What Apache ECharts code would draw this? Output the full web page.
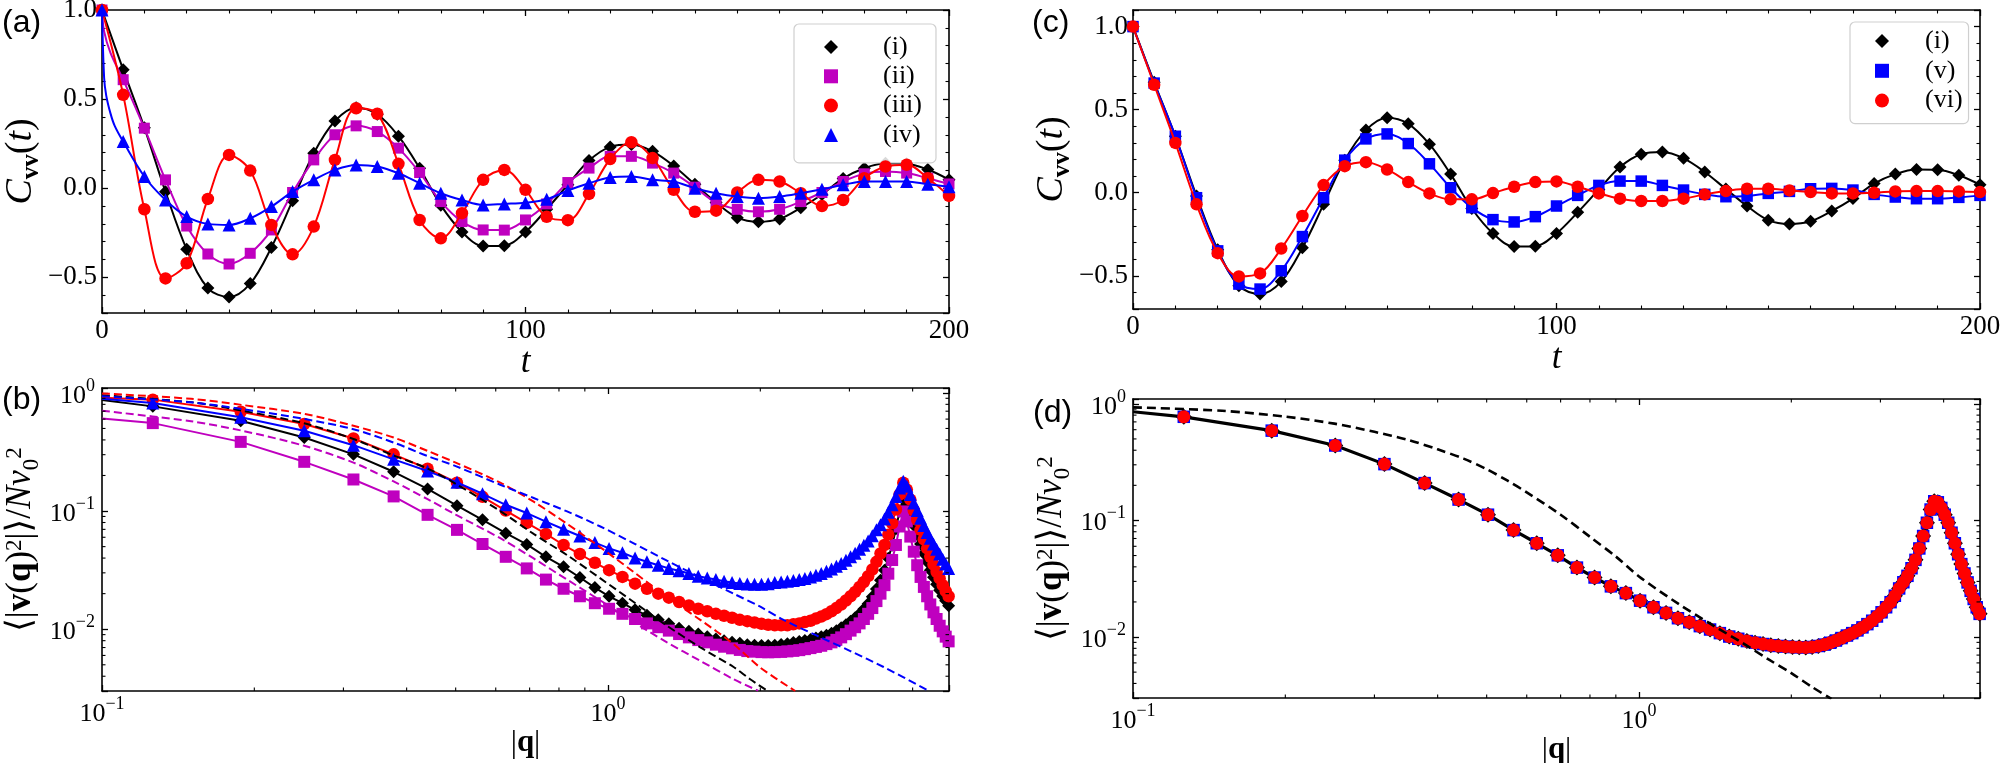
<!DOCTYPE html>
<html>
<head>
<meta charset="utf-8">
<script src="https://cdn.jsdelivr.net/npm/echarts@6/dist/echarts.min.js"></script>
<style>
html,body{margin:0;padding:0;background:#fff;}
#chart{width:2000px;height:763px;}
</style>
</head>
<body>
<div id="chart"></div>
<script>
// ================= DATA =================
// Panels (a),(c): velocity autocorrelation C_vv(t), symbols every 5 time units
const tValues = [0,5,10,15,20,25,30,35,40,45,50,55,60,65,70,75,80,85,90,95,100,105,110,115,120,125,130,135,140,145,150,155,160,165,170,175,180,185,190,195,200];
const cvvI   = [1.0,0.665,0.34,-0.02,-0.343,-0.56,-0.61,-0.535,-0.332,-0.07,0.196,0.377,0.452,0.415,0.292,0.112,-0.095,-0.245,-0.324,-0.322,-0.245,-0.118,0.02,0.155,0.232,0.245,0.207,0.125,0.022,-0.08,-0.165,-0.188,-0.172,-0.11,-0.035,0.055,0.112,0.14,0.138,0.105,0.048];
const cvvII  = [1.0,0.609,0.337,0.047,-0.212,-0.369,-0.425,-0.365,-0.234,-0.024,0.159,0.30,0.35,0.318,0.225,0.088,-0.075,-0.187,-0.234,-0.235,-0.178,-0.088,0.032,0.113,0.179,0.179,0.141,0.085,0.006,-0.081,-0.118,-0.132,-0.118,-0.075,-0.024,0.038,0.081,0.094,0.085,0.056,0.024];
const cvvIII = [1.0,0.524,-0.118,-0.506,-0.421,-0.06,0.187,0.099,-0.206,-0.371,-0.215,0.159,0.449,0.418,0.137,-0.178,-0.281,-0.14,0.047,0.103,-0.009,-0.16,-0.179,-0.032,0.164,0.258,0.169,-0.009,-0.132,-0.126,-0.024,0.047,0.038,-0.028,-0.10,-0.066,0.056,0.122,0.132,0.056,-0.043];
const cvvIV  = [1.0,0.262,0.066,-0.066,-0.159,-0.20,-0.206,-0.169,-0.103,-0.019,0.047,0.103,0.131,0.122,0.084,0.028,-0.028,-0.066,-0.094,-0.088,-0.081,-0.062,-0.013,0.028,0.06,0.066,0.047,0.038,0.0,-0.028,-0.047,-0.056,-0.047,-0.028,-0.006,0.019,0.038,0.038,0.038,0.022,0.009];
const cvvV   = [1.0,0.66,0.34,-0.03,-0.35,-0.55,-0.58,-0.47,-0.264,-0.03,0.196,0.324,0.354,0.296,0.174,0.03,-0.09,-0.162,-0.176,-0.144,-0.08,-0.016,0.044,0.07,0.07,0.044,0.016,-0.01,-0.024,-0.02,-0.004,0.008,0.024,0.026,0.016,-0.01,-0.026,-0.036,-0.036,-0.028,-0.016];
const cvvVI  = [1.0,0.65,0.30,-0.07,-0.364,-0.504,-0.486,-0.336,-0.14,0.046,0.16,0.184,0.14,0.064,-0.004,-0.04,-0.04,-0.002,0.036,0.064,0.068,0.036,-0.004,-0.036,-0.05,-0.05,-0.036,-0.01,0.01,0.024,0.024,0.014,0.004,-0.004,-0.004,0.0,0.008,0.01,0.01,0.008,0.004];
// extra points of the fitted curves between t=0 and t=5 (fast initial drop)
const earlyTII = [0.5, 2];
const earlyII  = [0.88, 0.76];
const earlyTIV = [0.5, 1, 2, 3];
const earlyIV  = [0.62, 0.52, 0.42, 0.35];

// Panels (b),(d): spectrum <|v(q)^2|>/N v0^2 at the lattice wave numbers |q|
const qValues = [0.126,0.188,0.251,0.314,0.377,0.440,0.503,0.565,0.628,0.691,
  0.754,0.817,0.880,0.942,1.005,1.068,1.131,1.194,1.257,1.319,
  1.382,1.445,1.508,1.571,1.634,1.696,1.759,1.822,1.885,1.948,
  2.011,2.073,2.136,2.199,2.262,2.325,2.388,2.450,2.513,2.576,
  2.639,2.702,2.765,2.827,2.890,2.953,3.016,3.079,3.142,3.204,
  3.267,3.330,3.393,3.456,3.519,3.581,3.644,3.707,3.770,3.833,
  3.896,3.958,4.021,4.084,4.147,4.210,4.273,4.335,4.398,4.461,
  4.524,4.587,4.650,4.712];
const specI = [0.769,0.581,0.419,0.302,0.215,0.154,0.111,0.0843,0.0649,0.0522,
  0.0410,0.0337,0.0274,0.0225,0.0190,0.0166,0.0146,0.0131,0.0120,0.0111,
  0.0102,0.00959,0.00910,0.00865,0.00826,0.00800,0.00774,0.00759,0.00740,0.00733,
  0.00728,0.00728,0.00733,0.00741,0.00755,0.00773,0.00789,0.00804,0.00820,0.00841,
  0.00865,0.00891,0.00923,0.00971,0.0103,0.0109,0.0117,0.0125,0.0135,0.0148,
  0.0164,0.0188,0.0219,0.0260,0.0316,0.0398,0.0513,0.0708,0.100,0.129,
  0.112,0.0933,0.0759,0.0631,0.0525,0.0437,0.0372,0.0316,0.0275,0.0240,
  0.0214,0.0191,0.0174,0.0158];
const specII = [0.555,0.385,0.261,0.185,0.133,0.0929,0.0693,0.0526,0.0410,0.0327,
  0.0263,0.0220,0.0190,0.0166,0.0149,0.0135,0.0122,0.0112,0.0104,0.00973,
  0.00910,0.00853,0.00809,0.00774,0.00740,0.00711,0.00689,0.00668,0.00653,0.00646,
  0.00640,0.00638,0.00640,0.00643,0.00649,0.00656,0.00665,0.00678,0.00692,0.00708,
  0.00724,0.00748,0.00774,0.00813,0.00853,0.00908,0.00973,0.0104,0.0112,0.0122,
  0.0135,0.0151,0.0173,0.0200,0.0236,0.0295,0.0385,0.0516,0.0740,0.0993,
  0.0817,0.0608,0.0453,0.0348,0.0277,0.0228,0.0190,0.0162,0.0139,0.0122,
  0.0107,0.00959,0.00865,0.00789];
const specIII = [0.877,0.693,0.545,0.411,0.302,0.228,0.174,0.132,0.101,0.0794,
  0.0640,0.0516,0.0433,0.0365,0.0316,0.0277,0.0243,0.0220,0.0200,0.0185,
  0.0170,0.0159,0.0149,0.0142,0.0135,0.0130,0.0125,0.0120,0.0117,0.0114,
  0.0111,0.0109,0.0108,0.0108,0.0108,0.0110,0.0112,0.0115,0.0118,0.0123,
  0.0128,0.0134,0.0142,0.0151,0.0162,0.0175,0.0190,0.0207,0.0228,0.0251,
  0.0281,0.0320,0.0372,0.0437,0.0516,0.0631,0.0789,0.103,0.138,0.174,
  0.152,0.125,0.101,0.0843,0.0693,0.0577,0.0483,0.0410,0.0353,0.0305,
  0.0269,0.0236,0.0210,0.0190];
const specIV = [0.822,0.621,0.478,0.361,0.274,0.218,0.175,0.140,0.113,0.0962,
  0.0813,0.0702,0.0615,0.0541,0.0483,0.0444,0.0401,0.0372,0.0348,0.0327,
  0.0312,0.0296,0.0281,0.0271,0.0263,0.0255,0.0248,0.0244,0.0241,0.0240,
  0.0240,0.0243,0.0248,0.0251,0.0255,0.0259,0.0263,0.0269,0.0277,0.0286,
  0.0296,0.0309,0.0324,0.0341,0.0360,0.0384,0.0410,0.0440,0.0474,0.0513,
  0.0558,0.0619,0.0693,0.0767,0.0855,0.0977,0.113,0.133,0.157,0.179,
  0.162,0.138,0.117,0.101,0.0871,0.0755,0.0658,0.0589,0.0526,0.0474,
  0.0433,0.0390,0.0356,0.0327];
// panel (d): series (i), (v) and (vi) fall on top of each other
const specCollapsed = [0.774,0.589,0.439,0.304,0.209,0.151,0.112,0.0826,0.0637,0.0502,
  0.0394,0.0324,0.0272,0.0238,0.0205,0.0180,0.0161,0.0145,0.0134,0.0124,
  0.0116,0.0108,0.0101,0.00966,0.00923,0.00895,0.00871,0.00851,0.00838,0.00828,
  0.00820,0.00817,0.00815,0.00822,0.00838,0.00861,0.00893,0.00933,0.00980,0.0103,
  0.0108,0.0114,0.0121,0.0129,0.0138,0.0150,0.0163,0.0180,0.0199,0.0226,
  0.0261,0.0295,0.0335,0.0389,0.0459,0.0575,0.0735,0.0955,0.124,0.146,
  0.143,0.128,0.112,0.0955,0.0785,0.0637,0.0513,0.0422,0.0351,0.0294,
  0.0249,0.0212,0.0180,0.0158];
// start of the solid fit curves at the left edge (|q| = 0.1)
const solidStartQ = 0.1;
const solidStartB = [0.87, 0.608, 0.91, 0.89];   // (i),(ii),(iii),(iv)
const solidStartD = 0.855;
// dashed theory curves
const dashQI   = [0.1,0.15,0.189,0.252,0.314,0.377,0.44,0.5,0.6125,0.713,0.83,0.966,1.124,1.308,1.522,1.771,1.91,2.08];
const dashI    = [0.955,0.832,0.708,0.550,0.407,0.295,0.229,0.170,0.100,0.0640,0.0424,0.0269,0.0170,0.0107,0.00702,0.00479,0.00377,0.00295];
const dashQII  = [0.1,0.15,0.189,0.252,0.314,0.377,0.44,0.5,0.6125,0.713,0.83,0.966,1.124,1.308,1.522,1.771,1.98];
const dashII   = [0.706,0.575,0.479,0.355,0.257,0.178,0.126,0.0933,0.0589,0.0397,0.0263,0.0175,0.0115,0.00774,0.00540,0.00377,0.00302];
const dashQIII = [0.1,0.15,0.189,0.252,0.314,0.377,0.44,0.5,0.6125,0.713,0.83,0.966,1.124,1.308,1.522,1.771,2.0,2.345];
const dashIII  = [0.989,0.891,0.791,0.662,0.527,0.419,0.323,0.257,0.174,0.120,0.0780,0.0493,0.0305,0.0187,0.0120,0.00748,0.00473,0.00300];
const dashQIV  = [0.1,0.15,0.189,0.252,0.314,0.377,0.44,0.5,0.6125,0.713,0.83,0.966,1.124,1.308,1.522,1.771,2.0,2.223,2.588,3.013,3.505,4.3];
const dashIV   = [0.938,0.832,0.731,0.600,0.493,0.380,0.292,0.240,0.167,0.129,0.0993,0.0740,0.0533,0.0380,0.0275,0.0200,0.0155,0.0120,0.00881,0.00653,0.00479,0.00302];
const dashQD   = [0.1,0.15,0.2,0.25,0.3,0.35,0.4,0.45,0.5,0.55,0.6,0.7,0.8,0.9,1.0,1.2,1.4,1.6,1.8,2.0,2.2,2.4];
const dashD    = [0.933,0.871,0.776,0.676,0.575,0.490,0.407,0.339,0.275,0.219,0.174,0.112,0.0724,0.0490,0.0331,0.0191,0.0126,0.00891,0.00646,0.00490,0.00372,0.00295];
// minor tick positions on the logarithmic axes
const logMinorQ = [0.2,0.3,0.4,0.5,0.6,0.7,0.8,0.9,2,3,4];
const logMinorV = [0.004,0.005,0.006,0.007,0.008,0.009,0.02,0.03,0.04,0.05,0.06,0.07,0.08,0.09,0.2,0.3,0.4,0.5,0.6,0.7,0.8,0.9];
const legendA = ['(i)','(ii)','(iii)','(iv)'];
const legendC = ['(i)','(v)','(vi)'];

// ================= STYLE =================
const SERIF = "'Liberation Serif','DejaVu Serif',serif";
const SANS = "'Liberation Sans','DejaVu Sans',sans-serif";
const BLACK = '#000000', MAG = '#bf00bf', RED = '#ff0000', BLUE = '#0000ff';
const TICK_FONT = 27;
const AX_LINE = {show:true, onZero:false, lineStyle:{color:'#000', width:1.6}};
const MAJ = {show:true, inside:true, length:6, lineStyle:{color:'#000', width:1.3}};
const LIN_MINOR = (n) => ({show:true, splitNumber:n, length:3.5, lineStyle:{color:'#000', width:1.1}});

const grids = [
  {left:102, top:10, width:847, height:303},
  {left:102, top:388, width:847, height:303},
  {left:1133, top:10, width:847, height:299},
  {left:1133, top:399, width:847, height:299}
].map(g => Object.assign({containLabel:false, outerBoundsMode:'none'}, g));

function halfFmt(v){
  const k = v / 0.5;
  if (Math.abs(k - Math.round(k)) > 1e-6) return '';
  const s = Math.abs(v).toFixed(1);
  return v < -1e-9 ? '\u2212' + s : s;
}
function logFmt(v){
  const e = Math.log10(v); const r = Math.round(e);
  if (Math.abs(e - r) > 1e-4) return '';
  return '{b|10}{s|' + (r < 0 ? '\u2212' + (-r) : String(r)) + '}';
}
const LOG_RICH = {
  b:{fontFamily:SERIF, fontSize:26, color:'#000', lineHeight:32, verticalAlign:'bottom'},
  s:{fontFamily:SERIF, fontSize:18, color:'#000', lineHeight:19, verticalAlign:'top'}
};
const CVV_NAME = '{c|C}{s|vv}{n|(}{c|t}{n|)}';
const CVV_RICH = {
  c:{fontFamily:SERIF, fontStyle:'italic', fontSize:38, lineHeight:42, verticalAlign:'top', color:'#000'},
  n:{fontFamily:SERIF, fontSize:38, lineHeight:42, verticalAlign:'top', color:'#000'},
  s:{fontFamily:SERIF, fontWeight:'bold', fontSize:25, lineHeight:25, verticalAlign:'bottom', color:'#000'}
};
const SPEC_NAME = '{a|\u27E8|}{b|v}{a|(}{b|q}{a|)}{p|2}{a||\u27E9/}{i|Nv}{d|0}{p|2}';
const SPEC_RICH = {
  a:{fontFamily:SERIF, fontSize:35, lineHeight:40, verticalAlign:'top', color:'#000'},
  b:{fontFamily:SERIF, fontWeight:'bold', fontSize:35, lineHeight:40, verticalAlign:'top', color:'#000'},
  i:{fontFamily:SERIF, fontStyle:'italic', fontSize:35, lineHeight:40, verticalAlign:'top', color:'#000'},
  p:{fontFamily:SERIF, fontSize:23, lineHeight:22, verticalAlign:'top', color:'#000'},
  d:{fontFamily:SERIF, fontSize:23, lineHeight:22, verticalAlign:'bottom', color:'#000'}
};
const Q_NAME = '{a||}{b|q}{a||}';
const Q_RICH = {
  a:{fontFamily:SERIF, fontSize:31, color:'#000'},
  b:{fontFamily:SERIF, fontWeight:'bold', fontSize:31, color:'#000'}
};
const T_NAME = '{t|t}';
const T_RICH = {t:{fontFamily:SERIF, fontStyle:'italic', fontSize:35, color:'#000'}};

// ================= AXES =================
const xAxes = [], yAxes = [];
[0,1,2,3].forEach(g => {
  const isLog = (g === 1 || g === 3);
  const xb = isLog ? {type:'log', logBase:10, min:0.1, max:4.72} : {type:'value', min:0, max:200, interval:100};
  const common = {gridIndex:g, axisLine:AX_LINE, axisTick:MAJ, splitLine:{show:false}, minorSplitLine:{show:false},
    minorTick: isLog ? {show:false} : LIN_MINOR(10)};
  xAxes.push(Object.assign({}, xb, common, {
    position:'bottom',
    axisLabel: isLog ? {margin:4, formatter:logFmt, rich:LOG_RICH, color:'#000'}
                     : {margin:4, fontFamily:SERIF, fontSize:TICK_FONT, color:'#000'},
    name: isLog ? Q_NAME : T_NAME, nameLocation:'middle', nameGap: isLog ? 31 : 21,
    nameTextStyle:{rich: isLog ? Q_RICH : T_RICH}
  }));
  xAxes.push(Object.assign({}, xb, common, {position:'top', axisLabel:{show:false}}));

  let yb;
  if (isLog) yb = {type:'log', logBase:10, min:0.003, max:1.1};
  else yb = {type:'value', min:-0.7, max:(g === 0 ? 1.0 : 1.1), splitNumber:3};
  const ycommon = {gridIndex:g, axisLine:AX_LINE, axisTick:MAJ, splitLine:{show:false}, minorSplitLine:{show:false},
    minorTick: isLog ? {show:false} : LIN_MINOR(5)};
  yAxes.push(Object.assign({}, yb, ycommon, {
    position:'left',
    axisLabel: isLog ? {margin:7, formatter:logFmt, rich:LOG_RICH, color:'#000'}
                     : {margin:5, formatter:halfFmt, fontFamily:SERIF, fontSize:TICK_FONT, color:'#000'},
    name: isLog ? SPEC_NAME : CVV_NAME, nameLocation:'middle', nameGap: isLog ? 59 : 57,
    nameTextStyle:{rich: isLog ? SPEC_RICH : CVV_RICH}
  }));
  yAxes.push(Object.assign({}, yb, ycommon, {position:'right', axisLabel:{show:false}}));
});

// ================= SERIES =================
const series = [];
function lineS(g, data, color, width, z, dash, smooth, name){
  series.push({type:'line', name:name, xAxisIndex:2*g, yAxisIndex:2*g, data:data,
    showSymbol:false, symbol:'none', smooth:smooth || false, clip:true, silent:true,
    lineStyle:{color:color, width:width, type:dash || 'solid'}, itemStyle:{color:color}, z:z});
}
function scatS(g, data, color, symbol, size, z, name){
  series.push({type:'scatter', name:name, xAxisIndex:2*g, yAxisIndex:2*g, data:data,
    symbol:symbol, symbolSize:size, clip:true, silent:true,
    itemStyle:{color:color, opacity:1, borderWidth:0}, z:z});
}

// panel (a)
[
  {name:'(i)',   vals:cvvI,   color:BLACK, sym:'diamond',  size:13},
  {name:'(ii)',  vals:cvvII,  color:MAG,   sym:'rect',     size:11, et:earlyTII, ev:earlyII},
  {name:'(iii)', vals:cvvIII, color:RED,   sym:'circle',   size:12.5},
  {name:'(iv)',  vals:cvvIV,  color:BLUE,  sym:'triangle', size:13, et:earlyTIV, ev:earlyIV}
].forEach((d, k) => {
  const pts = tValues.map((t, i) => [t, d.vals[i]]);
  let lp = pts;
  if (d.et) lp = [pts[0]].concat(d.et.map((t, i) => [t, d.ev[i]]), pts.slice(1));
  lineS(0, lp, d.color, 2, 2 + 2*k, null, 0.35, d.name + ' fit a');
  scatS(0, pts, d.color, d.sym, d.size, 3 + 2*k, d.name);
});
// panel (c)
[
  {name:'(i)',  vals:cvvI,  color:BLACK, sym:'diamond', size:13},
  {name:'(v)',  vals:cvvV,  color:BLUE,  sym:'rect',    size:11.5},
  {name:'(vi)', vals:cvvVI, color:RED,   sym:'circle',  size:12.5}
].forEach((d, k) => {
  const pts = tValues.map((t, i) => [t, d.vals[i]]);
  lineS(2, pts, d.color, 2, 2 + 2*k, null, 0.35, d.name + ' fit c');
  scatS(2, pts, d.color, d.sym, d.size, 3 + 2*k, d.name);
});
// panel (b)
const bDefs = [
  {vals:specI,   start:solidStartB[0], color:BLACK, sym:'diamond',  size:13,   dq:dashQI,   dv:dashI},
  {vals:specII,  start:solidStartB[1], color:MAG,   sym:'rect',     size:12,   dq:dashQII,  dv:dashII},
  {vals:specIII, start:solidStartB[2], color:RED,   sym:'circle',   size:12.5, dq:dashQIII, dv:dashIII},
  {vals:specIV,  start:solidStartB[3], color:BLUE,  sym:'triangle', size:13,   dq:dashQIV,  dv:dashIV}
];
bDefs.forEach((d, k) => {
  const pts = qValues.map((q, i) => [q, d.vals[i]]);
  lineS(1, [[solidStartQ, d.start]].concat(pts), d.color, 2, 2 + 2*k, null, false, 'b solid ' + k);
  scatS(1, pts, d.color, d.sym, d.size, 3 + 2*k, 'b marks ' + k);
});
bDefs.forEach((d, k) => {
  lineS(1, d.dq.map((q, i) => [q, d.dv[i]]), d.color, 2, 20 + k, [8, 4], 0.3, 'b dashed ' + k);
});
// panel (d)
const dPts = qValues.map((q, i) => [q, specCollapsed[i]]);
scatS(3, dPts, BLACK, 'diamond', 16, 2, 'd (i)');
lineS(3, [[solidStartQ, solidStartD]].concat(dPts), BLACK, 3.2, 3, null, false, 'd solid');
scatS(3, dPts, BLUE, 'rect', 12.5, 4, 'd (v)');
scatS(3, dPts, RED, 'circle', 13, 5, 'd (vi)');
lineS(3, dashQD.map((q, i) => [q, dashD[i]]), BLACK, 2.6, 20, [9, 5], 0.3, 'd dashed');

// minor ticks of the log axes, drawn through the axes' own scales
function minorTicks(g, dir, vals){
  const data = dir === 'x' ? vals.map(v => [v, 0.01]) : vals.map(v => [0.5, v]);
  series.push({type:'custom', xAxisIndex:2*g, yAxisIndex:2*g, data:data, silent:true, clip:false, z:30,
    renderItem: function(params, api){
      const cs = params.coordSys;
      const p = api.coord([api.value(0), api.value(1)]);
      const L = 3.5, st = {stroke:'#000', lineWidth:1.1};
      if (dir === 'x') {
        return {type:'group', children:[
          {type:'line', shape:{x1:p[0], y1:cs.y + cs.height, x2:p[0], y2:cs.y + cs.height - L}, style:st},
          {type:'line', shape:{x1:p[0], y1:cs.y, x2:p[0], y2:cs.y + L}, style:st}
        ]};
      }
      return {type:'group', children:[
        {type:'line', shape:{x1:cs.x, y1:p[1], x2:cs.x + L, y2:p[1]}, style:st},
        {type:'line', shape:{x1:cs.x + cs.width, y1:p[1], x2:cs.x + cs.width - L, y2:p[1]}, style:st}
      ]};
    }
  });
}
minorTicks(1, 'x', logMinorQ); minorTicks(1, 'y', logMinorV);
minorTicks(3, 'x', logMinorQ); minorTicks(3, 'y', logMinorV);

// ================= LEGENDS / LABELS =================
const iconOf = {'(i)':'diamond', '(ii)':'rect', '(iii)':'circle', '(iv)':'triangle', '(v)':'rect', '(vi)':'circle'};
const legendBase = {orient:'vertical', itemWidth:14, itemHeight:14, selectedMode:false,
  backgroundColor:'rgba(255,255,255,0.85)', borderColor:'#cfcfcf', borderWidth:1.2, borderRadius:5};
const legends = [
  Object.assign({}, legendBase, {
    data: legendA.map(n => ({name:n, icon:iconOf[n]})), left:794, top:24, itemGap:3.3, padding:[10, 14, 15, 30],
    textStyle:{fontFamily:SERIF, fontSize:26, lineHeight:24, color:'#000', padding:[0, 0, 0, 40]}
  }),
  Object.assign({}, legendBase, {
    data: legendC.map(n => ({name:n, icon:iconOf[n]})), left:1850, top:22, itemGap:3.8, padding:[6, 6, 10, 25],
    textStyle:{fontFamily:SERIF, fontSize:26, lineHeight:24, color:'#000', padding:[0, 0, 0, 31]}
  })
];
const panelLabel = (txt, left, top) => ({text:txt, left:left, top:top, padding:0,
  textStyle:{fontFamily:SANS, fontSize:32, fontWeight:'normal', color:'#000'}});
const titles = [panelLabel('(a)', 2, 7), panelLabel('(b)', 2, 384), panelLabel('(c)', 1032, 7), panelLabel('(d)', 1033, 397)];

const chart = echarts.init(document.getElementById('chart'), null, {renderer:'canvas', width:2000, height:763});
chart.setOption({
  animation:false,
  backgroundColor:'#ffffff',
  title:titles,
  legend:legends,
  grid:grids,
  xAxis:xAxes,
  yAxis:yAxes,
  series:series
});
</script>
</body>
</html>
